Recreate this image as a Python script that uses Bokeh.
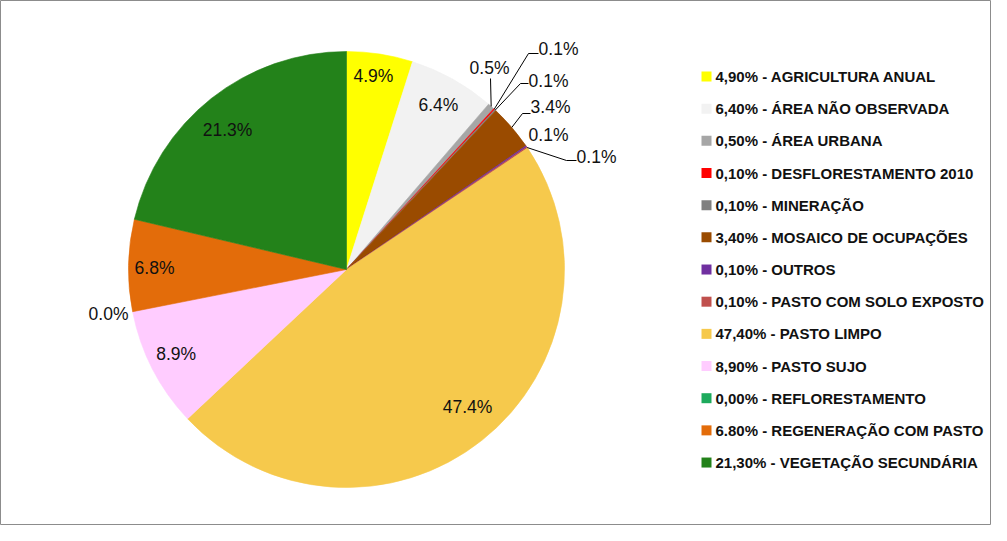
import numpy as np
from bokeh.plotting import figure
from bokeh.models import Range1d, ColumnDataSource
from bokeh.core.properties import value
from bokeh.embed import file_html
from bokeh.resources import INLINE

# ---------------- data ----------------
categories = ["AGRICULTURA ANUAL", "ÁREA NÃO OBSERVADA", "ÁREA URBANA",
              "DESFLORESTAMENTO 2010", "MINERAÇÃO", "MOSAICO DE OCUPAÇÕES",
              "OUTROS", "PASTO COM SOLO EXPOSTO", "PASTO LIMPO", "PASTO SUJO",
              "REFLORESTAMENTO", "REGENERAÇÃO COM PASTO", "VEGETAÇÃO SECUNDÁRIA"]
values = [4.9, 6.4, 0.5, 0.1, 0.1, 3.4, 0.1, 0.1, 47.4, 8.9, 0.0, 6.8, 21.3]
legend_pct = ["4,90%", "6,40%", "0,50%", "0,10%", "0,10%", "3,40%", "0,10%",
              "0,10%", "47,40%", "8,90%", "0,00%", "6.80%", "21,30%"]
colors = ["#FFFF00", "#F2F2F2", "#A6A6A6", "#FF0000", "#808080", "#9A4B00",
          "#7030A0", "#C0504D", "#F6C94C", "#FFCCFF", "#1DAA5C", "#E36C0A",
          "#23821A"]

# ---------------- layout / style ----------------
W, H = 991, 525
CX, CY_IMG, R = 346, 269, 218
FONT = "Liberation Sans"

def ys(y_img):
    return H - y_img

# label style per slice:
#   ("in", radius, angular shift in degrees)
#   ("out", (x, y) image coords of label, elbow points of leader line)
label_style = [
    ("in", 195, -0.9),
    ("in", 188, 0.1),
    ("out", (489, 67), [(490, 78)]),
    ("out", (558, 48), [(528, 53), (538, 53)]),
    ("out", (548, 80), [(520, 83), (528, 83)]),
    ("out", (550, 106), [(522, 113), (530, 113)]),
    ("out", (548, 134), []),
    ("out", (596, 156), [(566, 160), (576, 160)]),
    ("in", 183, -2.9),
    ("in", 190, 0.9),
    ("out", (108, 313), []),
    ("in", 192, -0.5),
    ("in", 183, -2.2),
]

p = figure(width=W, height=H, output_backend="svg", toolbar_location=None,
           x_range=Range1d(0, W), y_range=Range1d(0, H),
           min_border=0)
p.axis.visible = False
p.grid.visible = False
p.outline_line_color = "#8C8C8C"
p.outline_line_width = 1
p.background_fill_color = "white"
p.border_fill_color = "white"

vals = np.array(values, dtype=float)
frac = vals / vals.sum()
cum_end = np.cumsum(frac)
cum_start = cum_end - frac
# clockwise from 12 o'clock
start_angle = np.pi / 2 - cum_end * 2 * np.pi
end_angle = np.pi / 2 - cum_start * 2 * np.pi

nz = vals > 0
src = ColumnDataSource(dict(start=start_angle[nz], end=end_angle[nz],
                            color=[c for c, k in zip(colors, nz) if k],
                            cat=[c for c, k in zip(categories, nz) if k]))
p.wedge(x=CX, y=ys(CY_IMG), radius=R, start_angle="start", end_angle="end",
        fill_color="color", line_color="color", line_width=0.6, source=src)

# ---------------- pie labels ----------------
mid = (cum_start + cum_end) / 2 * 2 * np.pi  # clockwise from top
lx, ly, lt = [], [], []
for i, v in enumerate(values):
    kind, a, b = label_style[i]
    txt = f"{v:.1f}%"
    if kind == "in":
        ang = mid[i] + np.radians(b)
        x = CX + a * np.sin(ang)
        y = CY_IMG - a * np.cos(ang)
    else:
        x, y = a
        if b:
            ex = CX + R * np.sin(mid[i])
            ey = CY_IMG - R * np.cos(mid[i])
            pts = [(ex, ey)] + list(b)
            p.line([q[0] for q in pts], [ys(q[1]) for q in pts],
                   line_color="black", line_width=1)
    lx.append(x)
    ly.append(ys(y))
    lt.append(txt)

p.text(x=lx, y=ly, text=lt, text_font=value(FONT), text_font_size="17.5px",
       text_color="#111111", text_align="center", text_baseline="middle")

# ---------------- legend ----------------
leg_x_sq, leg_x_txt, leg_y0, leg_dy = 706, 715, 76, 32.17
leg_y = [ys(leg_y0 + i * leg_dy) for i in range(len(categories))]
leg_txt = [f"{pc} - {c}" for pc, c in zip(legend_pct, categories)]
p.rect(x=[leg_x_sq] * len(categories), y=leg_y, width=10, height=10,
       fill_color=colors, line_color=None)
p.text(x=[leg_x_txt] * len(categories), y=leg_y, text=leg_txt,
       text_font=value(FONT), text_font_size="15px", text_font_style="bold",
       text_color="#111111", text_align="left", text_baseline="middle")

open("out.html", "w").write(file_html(p, INLINE))
